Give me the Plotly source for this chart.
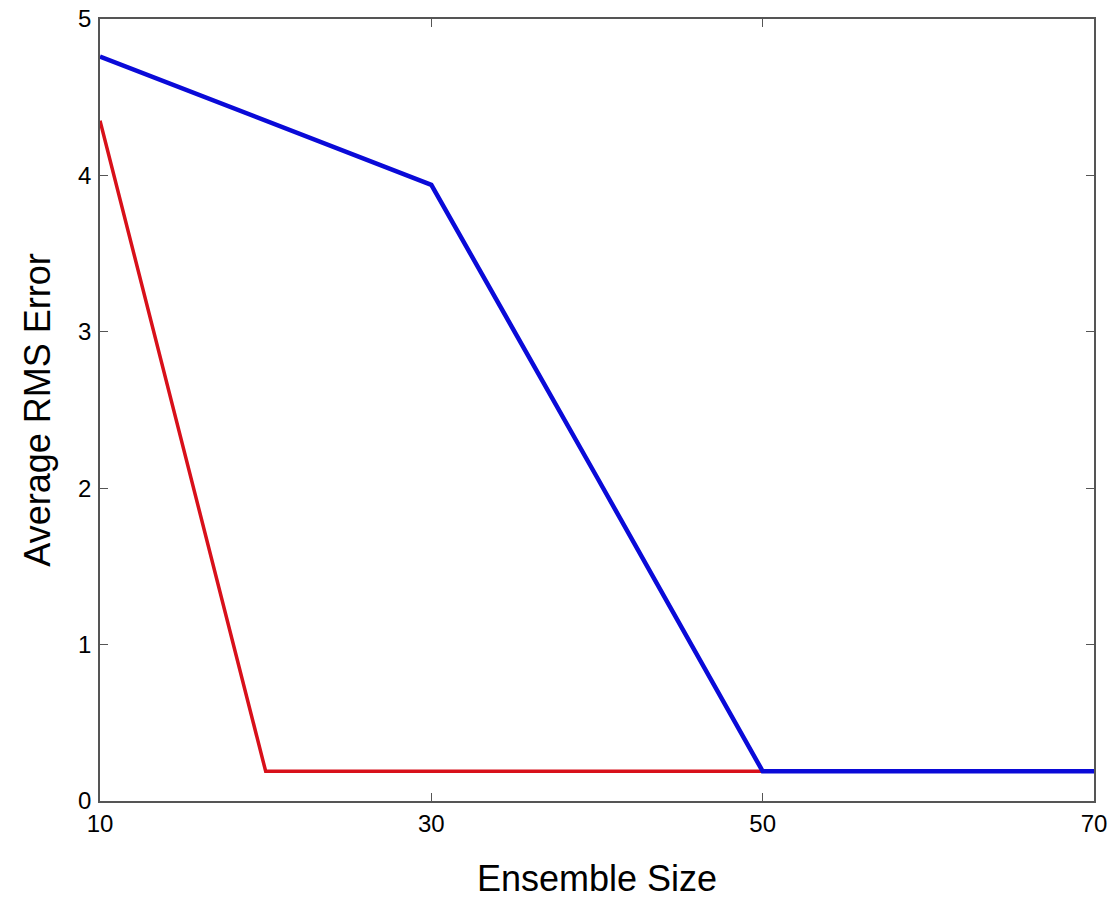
import plotly.graph_objects as go

ensemble_blue = [10, 20, 30, 40, 50, 60, 70]
rms_blue = [4.76, 4.35, 3.94, 2.07, 0.19, 0.19, 0.19]
ensemble_red = [10, 20, 30, 40, 50]
rms_red = [4.35, 0.19, 0.19, 0.19, 0.19]

x_ticks = [10, 30, 50, 70]
y_ticks = [0, 1, 2, 3, 4, 5]

fig = go.Figure()
fig.add_trace(go.Scatter(x=ensemble_red, y=rms_red, mode="lines",
                         line=dict(color="#d8101a", width=3.5), showlegend=False, cliponaxis=False))
fig.add_trace(go.Scatter(x=ensemble_blue, y=rms_blue, mode="lines",
                         line=dict(color="#0a0ad8", width=4.5), showlegend=False, cliponaxis=False))

axis_common = dict(showgrid=False, zeroline=False, showline=True, mirror="ticks",
                   linecolor="#555555", linewidth=1.5, ticks="inside", ticklen=8,
                   tickcolor="#555555", automargin=False, ticklabeloverflow="allow",
                   tickfont=dict(family="Liberation Sans, Arial", size=24, color="black"))

title_font = dict(family="Liberation Sans Narrow, Liberation Sans, Arial", size=36, color="black")

fig.update_layout(
    width=1113, height=901,
    margin=dict(l=100, r=19, t=19, b=100),
    plot_bgcolor="white", paper_bgcolor="white",
    xaxis=dict(range=[10, 70], tickvals=x_ticks, ticktext=[str(v) for v in x_ticks],
               title=dict(text="Ensemble Size", font=title_font, standoff=30),
               **axis_common),
    yaxis=dict(range=[0, 5], tickvals=y_ticks, ticktext=[str(v) for v in y_ticks],
               title=dict(text="Average RMS Error", font=title_font, standoff=16),
               ticklabelstandoff=2,
               **axis_common),
)

fig.write_html("out.html", config={"displayModeBar": False},
               post_script="document.body.style.margin='0';")
